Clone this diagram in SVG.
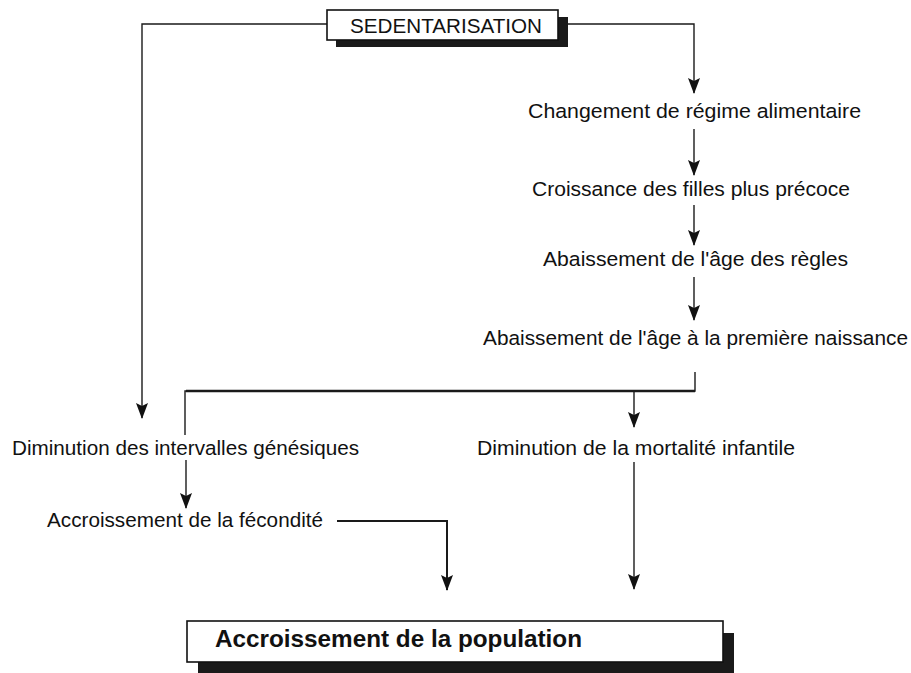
<svg xmlns="http://www.w3.org/2000/svg" width="911" height="673" viewBox="0 0 911 673">
<style>
text{font-family:"Liberation Sans",Arial,sans-serif;fill:#111;}
.t{font-size:20.5px;}
.box{fill:#fff;stroke:#111;stroke-width:1.6;}
.shadow{fill:#1a1a1a;}
.ln{fill:none;stroke:#1a1a1a;stroke-width:1.4;}
.thick{stroke-width:2.6;}
.med{stroke-width:2;}
</style>
<defs>
<marker id="ah" markerUnits="userSpaceOnUse" markerWidth="18" markerHeight="14" refX="16" refY="7" orient="auto" viewBox="0 0 18 14">
<path d="M1,1 L4,7 L1,13 L17,7 z" fill="#111"/>
</marker>
</defs>
<g id="connectors">
<polyline class="ln" points="327,24 142,24 142,418" marker-end="url(#ah)"/>
<polyline class="ln" points="568,24 694,24 694,93" marker-end="url(#ah)"/>
<line class="ln" x1="694" y1="129" x2="694" y2="175" marker-end="url(#ah)"/>
<line class="ln" x1="694" y1="205" x2="694" y2="245" marker-end="url(#ah)"/>
<line class="ln" x1="694" y1="277" x2="694" y2="320" marker-end="url(#ah)"/>
<polyline class="ln" points="695,372 695,391 185,391 185,435"/>
<line class="ln thick" x1="186" y1="391" x2="695" y2="391"/>
<line class="ln" x1="634" y1="391" x2="634" y2="427" marker-end="url(#ah)"/>
<line class="ln" x1="186" y1="460" x2="186" y2="508" marker-end="url(#ah)"/>
<polyline class="ln med" points="337,521 447,521 447,590" marker-end="url(#ah)"/>
<line class="ln" x1="634" y1="462" x2="634" y2="589" marker-end="url(#ah)"/>
</g>
<g id="sedentarisation">
<rect class="shadow" x="336" y="17" width="232" height="30"/>
<rect class="box" x="327" y="10" width="231" height="30"/>
<text x="350" y="33" font-size="20" textLength="192" lengthAdjust="spacingAndGlyphs">SEDENTARISATION</text>
</g>
<g id="changement"><text class="t" x="528" y="118" textLength="333" lengthAdjust="spacingAndGlyphs">Changement de régime alimentaire</text></g>
<g id="croissance"><text class="t" x="532" y="196" textLength="318" lengthAdjust="spacingAndGlyphs">Croissance des filles plus précoce</text></g>
<g id="abaissement-regles"><text class="t" x="543" y="266" textLength="305" lengthAdjust="spacingAndGlyphs">Abaissement de l'âge des règles</text></g>
<g id="abaissement-naissance"><text class="t" x="483" y="345" textLength="425" lengthAdjust="spacingAndGlyphs">Abaissement de l'âge à la première naissance</text></g>
<g id="diminution-intervalles"><text class="t" x="12" y="455" textLength="347" lengthAdjust="spacingAndGlyphs">Diminution des intervalles génésiques</text></g>
<g id="diminution-mortalite"><text class="t" x="477" y="455" textLength="318" lengthAdjust="spacingAndGlyphs">Diminution de la mortalité infantile</text></g>
<g id="fecondite"><text class="t" x="47" y="527" textLength="276" lengthAdjust="spacingAndGlyphs">Accroissement de la fécondité</text></g>
<g id="population">
<rect class="shadow" x="198" y="633" width="536" height="40"/>
<rect class="box" x="187" y="621" width="536" height="41"/>
<text x="215" y="647" font-size="24.5" font-weight="bold" textLength="367" lengthAdjust="spacingAndGlyphs">Accroissement de la population</text>
</g>
</svg>
